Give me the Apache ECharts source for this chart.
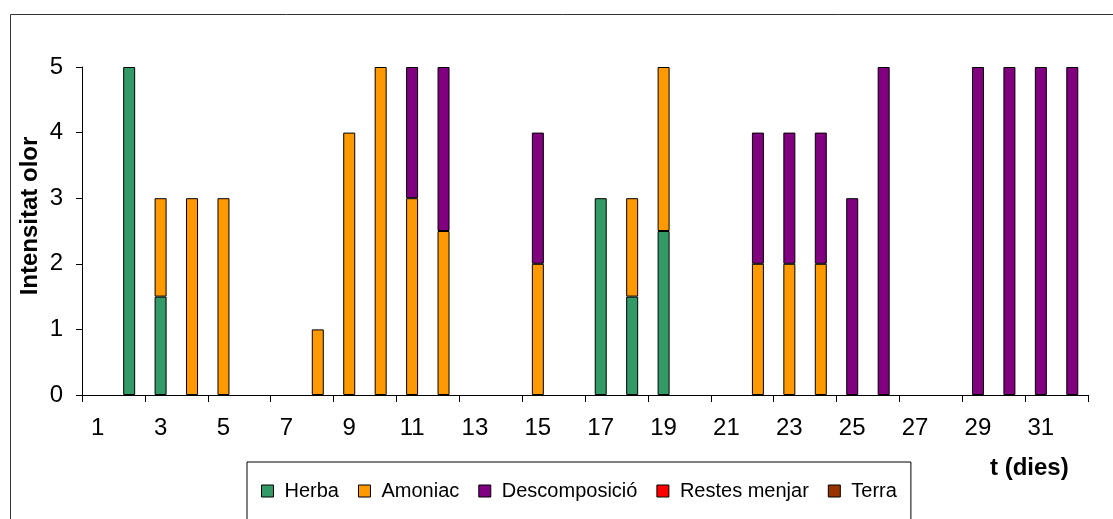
<!DOCTYPE html>
<html>
<head>
<meta charset="utf-8">
<script src="https://cdn.jsdelivr.net/npm/echarts@6/dist/echarts.min.js"></script>
<style>
  html, body { margin: 0; padding: 0; background: #fff; }
  #chart { width: 1113px; height: 519px; }
</style>
</head>
<body>
<div id="chart"></div>
<script>
// dies 1..32
const days = [];
for (let d = 1; d <= 32; d++) days.push(String(d))

// intensitat per component, '-' = sense valor
const herba = ['-', 5, 1.5, '-', '-', '-', '-', '-', '-', '-', '-', '-', '-', '-', '-', '-',
    3, 1.5, 2.5, '-', '-', '-', '-', '-', '-', '-', '-', '-', '-', '-', '-', '-']
const amoniac = ['-', '-', 1.5, 3, 3, '-', '-', 1, 4, 5, 3, 2.5, '-', '-', 2, '-',
    '-', 1.5, 2.5, '-', '-', 2, 2, 2, '-', '-', '-', '-', '-', '-', '-', '-']
const descomposicio = ['-', '-', '-', '-', '-', '-', '-', '-', '-', '-', 2, 2.5, '-', '-', 2, '-',
    '-', '-', '-', '-', '-', 2, 2, 2, 3, 5, '-', '-', 5, 5, 5, 5]
const restes = days.map(() => '-')
const terra = days.map(() => '-')

const yTicks = [0, 1, 2, 3, 4, 5]

const font = 'Liberation Sans, Arial, sans-serif'

function bar(name, data, color) {
    return {
        name: name,
        type: 'bar',
        stack: 'olor',
        data: data,
        barWidth: 12,
        itemStyle: { color: color, borderColor: '#000', borderWidth: 1 }
    }
}

let chart = echarts.init(document.getElementById('chart'))
chart.setOption({
    animation: false,
    textStyle: { fontFamily: font },
    grid: { left: 82, right: 25, top: 67, bottom: 124 },
    graphic: [{
        type: 'rect',
        shape: { x: 10.5, y: 14.5, width: 1120, height: 520 },
        style: { fill: 'none', stroke: '#333', lineWidth: 1 },
        silent: true
    }, {
        type: 'text',
        x: 990, y: 456,
        style: { text: 't (dies)', font: 'bold 24px ' + font, fill: '#000' }
    }, {
        type: 'text',
        x: 30, y: 216,
        rotation: Math.PI / 2,
        style: {
            text: 'Intensitat olor', font: 'bold 24px ' + font, fill: '#000',
            align: 'center', verticalAlign: 'middle'
        }
    }],
    legend: {
        left: 247, top: 462,
        padding: [19, 14, 19, 14],
        borderColor: '#000',
        borderWidth: 1,
        itemWidth: 12, itemHeight: 12,
        itemGap: 19,
        icon: 'rect',
        itemStyle: { borderColor: '#000', borderWidth: 1 },
        textStyle: { fontSize: 20, color: '#000', fontFamily: font, padding: [0, 0, 0, 6] },
        data: ['Herba', 'Amoniac', 'Descomposició', 'Restes menjar', 'Terra']
    },
    xAxis: {
        type: 'category',
        data: days,
        axisLine: { lineStyle: { color: '#000' } },
        axisTick: { show: true, length: 7, lineStyle: { color: '#000' } },
        axisLabel: { interval: 1, fontSize: 24, color: '#000', margin: 21 }
    },
    yAxis: {
        type: 'value',
        min: 0, max: 5, interval: 1,
        axisLine: { show: true, lineStyle: { color: '#000' } },
        axisTick: { show: true, length: 6, lineStyle: { color: '#000' } },
        splitLine: { show: false },
        axisLabel: {
            fontSize: 24, color: '#000', margin: 19,
            formatter: v => yTicks.includes(v) ? String(v) : ''
        }
    },
    series: [
        bar('Herba', herba, '#339966'),
        bar('Amoniac', amoniac, '#FF9900'),
        bar('Descomposició', descomposicio, '#800080'),
        bar('Restes menjar', restes, '#FF0000'),
        bar('Terra', terra, '#993300')
    ]
})
</script>
</body>
</html>
